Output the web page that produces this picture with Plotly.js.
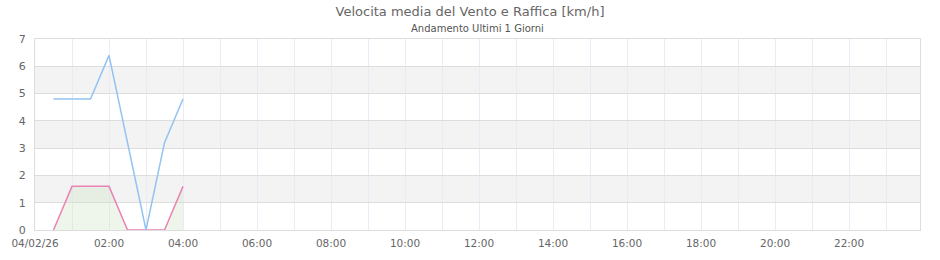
<!DOCTYPE html>
<html><head><meta charset="utf-8">
<script src="https://cdn.plot.ly/plotly-3.0.1.min.js"></script>
<style>html,body{margin:0;padding:0;background:#fff}#chart{width:940px;height:260px}</style>
</head><body><div id="chart"></div>
<script>
const times = ["2026-02-04 00:30","2026-02-04 01:00","2026-02-04 01:30","2026-02-04 02:00","2026-02-04 02:30","2026-02-04 03:00","2026-02-04 03:30","2026-02-04 04:00"];
const raffica = [4.8, 4.8, 4.8, 6.4, 3.2, 0, 3.2, 4.8];
const media = [0, 1.6, 1.6, 1.6, 0, 0, 0, 1.6];
const tickVals = ["2026-02-04 00:00","2026-02-04 02:00","2026-02-04 04:00","2026-02-04 06:00","2026-02-04 08:00","2026-02-04 10:00","2026-02-04 12:00","2026-02-04 14:00","2026-02-04 16:00","2026-02-04 18:00","2026-02-04 20:00","2026-02-04 22:00"];
const tickText = ["04/02/26","02:00","04:00","06:00","08:00","10:00","12:00","14:00","16:00","18:00","20:00","22:00"];
const bands = [[1,2],[3,4],[5,6]];

const shapes = bands.map(b => ({type:'rect', xref:'paper', yref:'y', x0:0, x1:1, y0:b[0], y1:b[1], fillcolor:'#f3f3f3', line:{width:0}, layer:'below'}));

const data = [
  {x: times, y: media, type:'scatter', mode:'lines', name:'Media', fill:'tozeroy', fillcolor:'rgba(205,225,195,0.35)', line:{color:'#ec83b6', width:1.5}},
  {x: times, y: raffica, type:'scatter', mode:'lines', name:'Raffica', line:{color:'#92c3f2', width:1.5}}
];

const layout = {
  width:940, height:260,
  margin:{l:35, r:20, t:39, b:30},
  paper_bgcolor:'#fff', plot_bgcolor:'rgba(0,0,0,0)',
  showlegend:false,
  font:{family:'DejaVu Sans, sans-serif', size:11, color:'#666'},
  title:{text:'Velocita media del Vento e Raffica [km/h]', font:{size:13, color:'#666'}, x:0.5, xanchor:'center', y:0.972, yanchor:'top'},
  annotations:[{text:'Andamento Ultimi 1 Giorni', xref:'paper', yref:'paper', x:0.5, y:1, yshift:11, xanchor:'center', yanchor:'middle', showarrow:false, font:{size:10, color:'#555'}}],
  shapes: shapes,
  xaxis:{type:'date', range:["2026-02-04 00:00","2026-02-04 23:55"], tickmode:'array', tickvals:tickVals, ticktext:tickText,
    showgrid:true, gridcolor:'#ebebf7', gridwidth:1, zeroline:false, showline:true, linecolor:'#ddd', mirror:true, ticks:'', ticklabelstandoff:3, tickfont:{size:10.5, color:'#666'},
    minor:{dtick:3600000, showgrid:true, gridcolor:'#ebebf7', ticks:''}},
  yaxis:{range:[0,7], dtick:1, tick0:0, showgrid:true, gridcolor:'#dddddd', zeroline:false, showline:true, linecolor:'#ddd', mirror:true, ticks:'', ticklabelstandoff:6, tickfont:{size:11, color:'#666'}}
};
Plotly.newPlot('chart', data, layout, {displayModeBar:false, staticPlot:true});
</script></body></html>
